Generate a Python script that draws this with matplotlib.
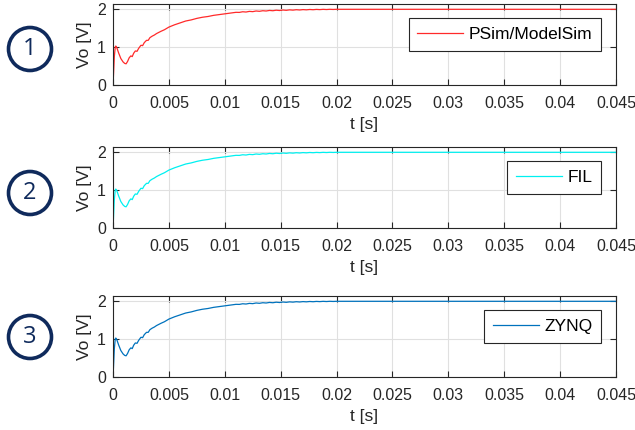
import matplotlib
matplotlib.use("Agg")
import matplotlib.pyplot as plt
from matplotlib.patches import Ellipse
import numpy as np

plt.rcParams['font.family'] = ['Liberation Sans', 'DejaVu Sans']

# time in ms
t_ms = [0, 0.05, 0.12, 0.2, 0.25, 0.35, 0.5, 0.7, 0.9, 1.05, 1.17, 1.3, 1.45,
        1.6, 1.72, 1.85, 2.0, 2.15, 2.3, 2.5, 2.65, 2.8, 3.0, 3.15, 3.3, 3.5,
        3.7, 3.9, 4.1, 4.3, 4.6, 5.0, 5.5, 6.0, 6.5, 7.0, 7.5, 8.0, 8.5, 9.0,
        9.5, 10.0, 10.5, 11.0, 11.3, 11.6, 11.9, 12.2, 12.5, 12.8, 13.1, 13.4,
        13.7, 14.0, 14.3, 14.6, 14.9, 15.2, 15.5, 15.8, 16.1, 16.4, 16.7, 17.0,
        17.3, 17.6, 17.9, 18.2, 18.5, 18.8, 19.1, 19.4, 19.7, 20.0, 21.0, 25.0,
        30.0, 35.0, 40.0, 45.0]
vo_psim = [0, 0.3, 0.75, 1.0, 1.03, 0.98, 0.85, 0.70, 0.61, 0.57, 0.56, 0.62,
           0.72, 0.77, 0.75, 0.84, 0.90, 0.89, 0.97, 1.05, 1.04, 1.12, 1.18,
           1.18, 1.25, 1.29, 1.32, 1.36, 1.39, 1.42, 1.46, 1.53, 1.59, 1.64,
           1.69, 1.72, 1.76, 1.79, 1.81, 1.84, 1.86, 1.88, 1.90, 1.92, 1.918,
           1.935, 1.928, 1.945, 1.938, 1.955, 1.947, 1.962, 1.955, 1.970, 1.962,
           1.976, 1.968, 1.981, 1.973, 1.985, 1.978, 1.989, 1.982, 1.992, 1.986,
           1.995, 1.989, 1.997, 1.992, 1.999, 1.994, 2.000, 1.996, 2.000, 2.000,
           2.000, 2.000, 2.000, 2.000, 2.000]
vo_fil = list(vo_psim)
vo_zynq = list(vo_psim)

series = [vo_psim, vo_fil, vo_zynq]
labels = ['PSim/ModelSim', 'FIL', 'ZYNQ']
colors = ['#ff2a2a', '#00f0f0', '#0072bd']
numbers = ['1', '2', '3']
xticks = [0, 0.005, 0.01, 0.015, 0.02, 0.025, 0.03, 0.035, 0.04, 0.045]
xticklabels = ['0', '0.005', '0.01', '0.015', '0.02', '0.025', '0.03',
               '0.035', '0.04', '0.045']

W, H = 635, 430
fig = plt.figure(figsize=(W / 100, H / 100), dpi=100)
tops = [4, 147, 296]
circ_y = [49, 193, 337]
navy = '#0f2a5c'
dark = '#262626'

t = np.array(t_ms) / 1000.0
for i in range(3):
    top = tops[i]
    ax = fig.add_axes([113 / W, 1 - (top + 81) / H, 503 / W, 81 / H])
    ax.plot(t, series[i], color=colors[i], lw=0.9, label=labels[i])
    ax.set_xlim(0, 0.045)
    ax.set_ylim(0, 2.14)
    ax.set_xticks(xticks)
    ax.set_xticklabels(xticklabels)
    ax.set_yticks([0, 1, 2])
    ax.grid(True, color='#e0e0e0', lw=0.8)
    ax.set_axisbelow(True)
    ax.tick_params(direction='in', length=4, width=0.8, colors=dark,
                   labelsize=11.5, top=True, right=True)
    ax.tick_params(axis='x', pad=8)
    ax.tick_params(axis='y', pad=5)
    for s in ax.spines.values():
        s.set_color(dark)
        s.set_linewidth(0.8)
    ax.set_xlabel('t [s]', fontsize=12.5, color=dark, labelpad=4)
    ax.set_ylabel('Vo [V]', fontsize=12.5, color=dark, labelpad=4)
    leg = ax.legend(loc='upper right', bbox_to_anchor=(1 - 15 / 503, 1 - 14 / 81),
                    borderaxespad=0, fontsize=12.5, fancybox=False,
                    framealpha=1, edgecolor=dark, handlelength=2.65,
                    borderpad=0.5, handletextpad=0.3)
    leg.get_frame().set_linewidth(0.8)

    cy = 1 - circ_y[i] / H
    fig.add_artist(Ellipse((30 / W, cy), 43 / W, 43 / H, transform=fig.transFigure,
                           fill=False, edgecolor=navy, lw=2.6))
    fig.text(30 / W, cy, numbers[i], ha='center', va='center', fontsize=17,
             color=navy, family='Open Sans')

fig.savefig('out.png', dpi=100)
